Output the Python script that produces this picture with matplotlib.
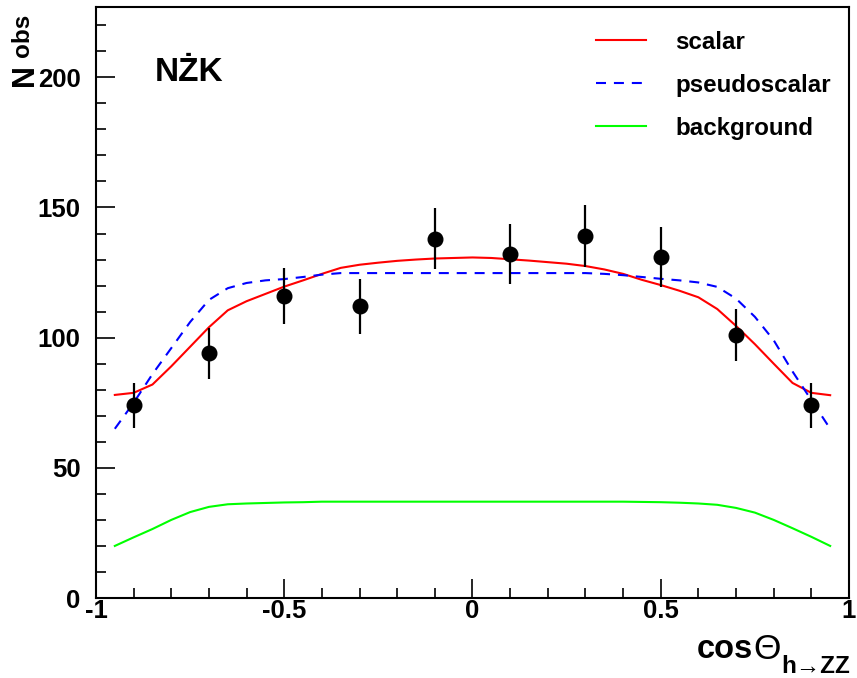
import matplotlib
matplotlib.use("Agg")
import matplotlib.pyplot as plt
from matplotlib.ticker import MultipleLocator

# observed events (points with errors)
data_x = [-0.9, -0.7, -0.5, -0.3, -0.1, 0.1, 0.3, 0.5, 0.7, 0.9]
data_y = [74, 94, 116, 112, 138, 132, 139, 131, 101, 74]
data_err = [8.6, 9.7, 10.8, 10.6, 11.7, 11.5, 11.8, 11.4, 10.0, 8.6]

# predicted curves
curve_x = [-0.95, -0.90, -0.85, -0.80, -0.75, -0.70, -0.65, -0.60, -0.55, -0.50,
           -0.45, -0.40, -0.35, -0.30, -0.25, -0.20, -0.15, -0.10, -0.05, 0.00,
           0.05, 0.10, 0.15, 0.20, 0.25, 0.30, 0.35, 0.40, 0.45, 0.50,
           0.55, 0.60, 0.65, 0.70, 0.75, 0.80, 0.85, 0.90, 0.95]
scalar = [78.0, 78.8, 82.0, 89.0, 96.5, 104.0, 110.5, 114.0, 116.8, 119.6,
          122.0, 124.5, 126.8, 128.0, 128.8, 129.5, 130.0, 130.4, 130.6, 130.8,
          130.6, 130.1, 129.6, 129.0, 128.4, 127.5, 126.2, 124.5, 122.2, 120.2,
          118.0, 115.5, 111.0, 104.5, 97.5, 90.0, 82.6, 78.8, 77.9]
pseudoscalar = [65.0, 75.0, 86.0, 96.0, 106.0, 114.5, 119.0, 121.0, 122.0, 122.5,
                123.3, 124.2, 124.8, 124.8, 124.8, 124.8, 124.8, 124.8, 124.8, 124.8,
                124.8, 124.8, 124.8, 124.8, 124.8, 124.8, 124.5, 124.0, 123.3, 122.6,
                122.0, 121.2, 119.5, 115.0, 108.0, 99.0, 87.0, 76.0, 65.0]
background = [20.0, 23.3, 26.5, 30.0, 33.0, 35.0, 36.0, 36.3, 36.5, 36.7,
              36.8, 37.0, 37.0, 37.0, 37.0, 37.0, 37.0, 37.0, 37.0, 37.0,
              37.0, 37.0, 37.0, 37.0, 37.0, 37.0, 37.0, 37.0, 36.9, 36.8,
              36.6, 36.3, 35.8, 34.6, 32.8, 30.0, 26.8, 23.5, 20.0]

xtick_vals = [-1, -0.5, 0, 0.5, 1]
xtick_text = ["-1", "-0.5", "0", "0.5", "1"]

plt.rcParams["font.family"] = ["Liberation Sans", "DejaVu Sans"]
plt.rcParams["font.weight"] = "bold"

W, H = 857, 678
fig = plt.figure(figsize=(W / 100, H / 100), dpi=100)
ax = fig.add_axes([96 / W, 80 / H, 753 / W, 591 / H])

ax.plot(curve_x, scalar, color="#ff0000", lw=1.5, label="scalar")
ax.plot(curve_x, pseudoscalar, color="#0000ff", lw=1.5, linestyle=(0, (4.8, 3.8)),
        label="pseudoscalar")
ax.plot(curve_x, background, color="#00ff00", lw=1.5, label="background")
ax.errorbar(data_x, data_y, yerr=data_err, fmt="o", color="black", ms=10.5,
            elinewidth=1.6, capsize=0, zorder=5)

ax.set_xlim(-1, 1)
ax.set_ylim(0, 227)
ax.set_xticks(xtick_vals)
ax.set_xticklabels(xtick_text)
ax.xaxis.set_minor_locator(MultipleLocator(0.1))
ax.yaxis.set_major_locator(MultipleLocator(50))
ax.yaxis.set_minor_locator(MultipleLocator(10))
ax.tick_params(which="both", direction="in", top=False, right=False,
               labelsize=18.5, width=1.2)
ax.tick_params(which="major", length=14)
ax.tick_params(which="minor", length=7)
ax.tick_params(axis="x", pad=1)
ax.tick_params(axis="y", pad=11)
for lbl in ax.get_xticklabels() + ax.get_yticklabels():
    lbl.set_fontweight("bold")
for s in ax.spines.values():
    s.set_linewidth(1.5)

ax.text(-0.843, 202, "NŻK", fontsize=24, fontweight="bold", va="center", ha="left")

ax.legend(loc="upper right", bbox_to_anchor=(1.005, 0.997), frameon=False,
          prop={"size": 17.4, "weight": "bold"}, handlelength=2.07,
          handletextpad=1.2, labelspacing=0.83)

# x axis title, ROOT style, at the right end
fig.text(697 / W, 1 - 658 / H, "cos", fontsize=23.5, fontweight="bold",
         ha="left", va="baseline")
fig.text(753 / W, 1 - 659 / H, "Θ", fontsize=25.5, fontweight="normal",
         ha="left", va="baseline")
fig.text(850 / W, 1 - 673 / H, "h→ZZ", fontsize=17.5, fontweight="bold",
         ha="right", va="baseline")

# y axis title at the top end
fig.text(33 / W, 1 - 86 / H, "N", fontsize=22, fontweight="bold", rotation=90,
         rotation_mode="anchor", ha="left", va="baseline")
fig.text(29 / W, 1 - 57 / H, "obs", fontsize=17.5, fontweight="bold", rotation=90,
         rotation_mode="anchor", ha="left", va="baseline")

fig.savefig("out.png", dpi=100)
